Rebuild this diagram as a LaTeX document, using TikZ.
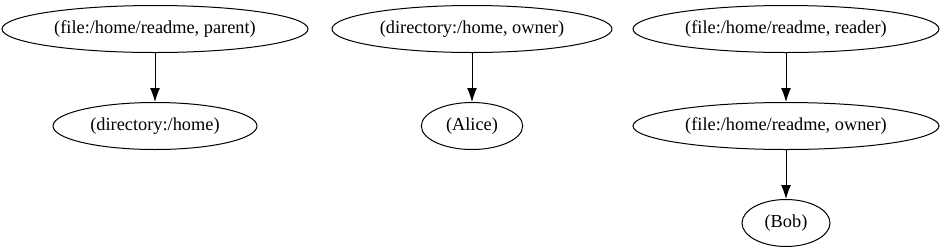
\documentclass[tikz,border=0pt]{standalone}
\usepackage{fontspec}
\setmainfont{Liberation Serif}
\usetikzlibrary{shapes.geometric, positioning, arrows.meta}

\begin{document}
\begin{tikzpicture}[x=1pt, y=1pt, node distance=36.75pt, line width=0.75pt,
	pair/.style={ellipse, draw, inner sep=0pt, minimum height=35.25pt, font=\fontsize{13.75}{16}\selectfont}]

	\useasboundingbox (0,0) rectangle (707.25,-188.25);

	\node[pair, minimum width=229.5pt] (fileparent) at (116.25,-21.75) {(file:/home/readme, parent)};
	\node[pair, minimum width=153pt, below=of fileparent] (dirhome) {(directory:/home)};

	\node[pair, minimum width=210pt] (dirowner) at (354,-21.75) {(directory:/home, owner)};
	\node[pair, minimum width=76pt, below=of dirowner] (alice) {(Alice)};

	\node[pair, minimum width=229.5pt] (filereader) at (589.5,-21.75) {(file:/home/readme, reader)};
	\node[pair, minimum width=229.5pt, below=of filereader] (fileowner) {(file:/home/readme, owner)};
	\node[pair, minimum width=66pt, below=of fileowner] (bob) {(Bob)};

	\draw[-{Latex[length=10.5pt, width=7.5pt]}]
	(fileparent) edge (dirhome)
	(dirowner) edge (alice)
	(filereader) edge (fileowner)
	(fileowner) edge (bob);
\end{tikzpicture}
\end{document}
